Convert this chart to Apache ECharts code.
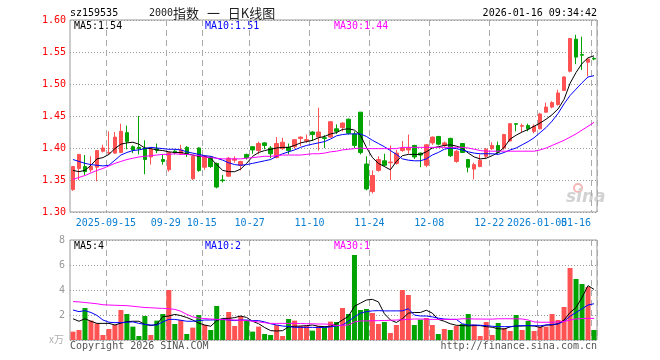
<!DOCTYPE html>
<html>
<head>
<meta charset="utf-8">
<script src="https://cdn.jsdelivr.net/npm/echarts@6/dist/echarts.min.js"></script>
<style>
html,body{margin:0;padding:0;background:#fff;}
#chart{width:660px;height:360px;}
</style>
</head>
<body>
<div id="chart"></div>
<script>
// ---------- data ----------
const dates = ['2025-09-05','2025-09-08','2025-09-09','2025-09-10','2025-09-11','2025-09-12',
'2025-09-15','2025-09-16','2025-09-17','2025-09-18','2025-09-19','2025-09-22','2025-09-23','2025-09-24','2025-09-25','2025-09-26',
'2025-09-29','2025-09-30','2025-10-09','2025-10-10','2025-10-13','2025-10-14','2025-10-15','2025-10-16','2025-10-17',
'2025-10-20','2025-10-21','2025-10-22','2025-10-23','2025-10-24','2025-10-27','2025-10-28','2025-10-29','2025-10-30','2025-10-31',
'2025-11-03','2025-11-04','2025-11-05','2025-11-06','2025-11-07','2025-11-10','2025-11-11','2025-11-12','2025-11-13','2025-11-14',
'2025-11-17','2025-11-18','2025-11-19','2025-11-20','2025-11-21','2025-11-24','2025-11-25','2025-11-26','2025-11-27','2025-11-28',
'2025-12-01','2025-12-02','2025-12-03','2025-12-04','2025-12-05','2025-12-08','2025-12-09','2025-12-10','2025-12-11','2025-12-12',
'2025-12-15','2025-12-16','2025-12-17','2025-12-18','2025-12-19','2025-12-22','2025-12-23','2025-12-24','2025-12-25','2025-12-26',
'2025-12-29','2025-12-30','2025-12-31','2026-01-05','2026-01-06','2026-01-07','2026-01-08','2026-01-09',
'2026-01-12','2026-01-13','2026-01-14','2026-01-15','2026-01-16'];

const tickDates  = ['2025-09-15','2025-09-29','2025-10-15','2025-10-27','2025-11-10','2025-11-24','2025-12-08','2025-12-22','2026-01-05','2026-01-16'];
const tickLabels = ['2025-09-15','09-29','10-15','10-27','11-10','11-24','12-08','12-22','2026-01-05','01-16'];

const openP = [1.335,1.368,1.371,1.366,1.370,1.395,1.392,1.392,1.393,1.424,
1.402,1.401,1.400,1.386,1.399,1.382,1.366,1.395,1.391,1.401,
1.352,1.400,1.370,1.386,1.376,1.350,1.356,1.381,1.373,1.390,
1.402,1.396,1.408,1.400,1.385,1.399,1.401,1.402,1.415,1.411,
1.425,1.417,1.416,1.417,1.430,1.432,1.445,1.422,1.456,1.375,
1.332,1.365,1.380,1.377,1.376,1.396,1.397,1.404,1.392,1.373,
1.408,1.418,1.404,1.415,1.379,1.407,1.382,1.367,1.371,1.387,
1.399,1.404,1.400,1.411,1.438,1.434,1.435,1.426,1.430,1.456,
1.464,1.468,1.490,1.520,1.570,1.546,1.534,1.540];
const closeP = [1.371,1.390,1.363,1.371,1.396,1.400,1.393,1.417,1.426,1.410,
1.397,1.399,1.382,1.398,1.396,1.379,1.393,1.393,1.397,1.391,
1.387,1.365,1.387,1.371,1.339,1.349,1.384,1.383,1.379,1.385,
1.397,1.407,1.404,1.391,1.407,1.409,1.396,1.413,1.417,1.413,
1.421,1.425,1.415,1.441,1.426,1.439,1.423,1.404,1.393,1.336,
1.357,1.382,1.373,1.378,1.392,1.400,1.400,1.386,1.389,1.405,
1.417,1.406,1.408,1.388,1.395,1.393,1.370,1.374,1.381,1.398,
1.404,1.393,1.421,1.438,1.437,1.435,1.430,1.434,1.453,1.464,
1.471,1.486,1.511,1.571,1.542,1.545,1.539,1.539];
const lowP = [1.333,1.350,1.358,1.362,1.348,1.393,1.390,1.391,1.392,1.398,
1.392,1.390,1.359,1.374,1.392,1.374,1.363,1.390,1.389,1.386,
1.350,1.363,1.366,1.369,1.337,1.346,1.355,1.377,1.365,1.382,
1.391,1.390,1.398,1.384,1.384,1.397,1.390,1.399,1.403,1.408,
1.411,1.396,1.400,1.416,1.422,1.426,1.421,1.400,1.390,1.334,
1.329,1.363,1.371,1.350,1.374,1.394,1.391,1.383,1.370,1.370,
1.405,1.404,1.401,1.386,1.377,1.392,1.362,1.351,1.370,1.384,
1.397,1.391,1.397,1.410,1.426,1.425,1.426,1.423,1.429,1.455,
1.462,1.466,1.489,1.518,1.531,1.522,1.512,1.537];
const highP = [1.372,1.390,1.389,1.387,1.397,1.405,1.426,1.425,1.438,1.435,
1.404,1.450,1.412,1.401,1.407,1.390,1.394,1.398,1.405,1.403,
1.388,1.401,1.389,1.387,1.377,1.358,1.386,1.387,1.380,1.391,
1.403,1.410,1.409,1.403,1.417,1.416,1.407,1.414,1.418,1.421,
1.426,1.463,1.420,1.442,1.437,1.440,1.446,1.426,1.456,1.387,
1.365,1.387,1.391,1.404,1.397,1.411,1.421,1.405,1.393,1.406,
1.418,1.419,1.410,1.416,1.397,1.408,1.383,1.377,1.390,1.400,
1.409,1.410,1.422,1.439,1.439,1.438,1.438,1.437,1.455,1.471,
1.473,1.491,1.512,1.572,1.577,1.574,1.540,1.542];

const ma5 = [1.365,1.363,1.365,1.373,1.383,1.385,1.390,1.399,1.406,1.408,
1.409,1.406,1.400,1.399,1.397,1.396,1.394,1.393,1.393,1.391,
1.389,1.387,1.387,1.384,1.374,1.365,1.363,1.363,1.367,1.376,
1.387,1.393,1.396,1.398,1.400,1.401,1.401,1.404,1.408,1.410,
1.412,1.416,1.418,1.422,1.424,1.429,1.430,1.428,1.420,1.401,
1.385,1.376,1.371,1.366,1.379,1.388,1.390,1.390,1.390,1.394,
1.400,1.402,1.404,1.405,1.403,1.400,1.392,1.386,1.383,1.384,
1.388,1.393,1.401,1.414,1.420,1.425,1.429,1.434,1.439,1.445,
1.452,1.461,1.476,1.501,1.518,1.532,1.541,1.544];
const ma10 = [1.382,1.379,1.376,1.374,1.373,1.372,1.373,1.381,1.389,1.393,
1.396,1.397,1.399,1.401,1.400,1.399,1.398,1.398,1.397,1.394,
1.392,1.390,1.388,1.387,1.384,1.381,1.377,1.374,1.373,1.374,
1.376,1.378,1.380,1.382,1.387,1.391,1.394,1.397,1.401,1.404,
1.406,1.408,1.410,1.414,1.419,1.421,1.422,1.422,1.422,1.418,
1.412,1.407,1.402,1.396,1.390,1.383,1.381,1.380,1.380,1.383,
1.389,1.393,1.398,1.400,1.399,1.397,1.394,1.392,1.391,1.391,
1.391,1.390,1.393,1.397,1.400,1.405,1.410,1.416,1.424,1.432,
1.442,1.454,1.469,1.482,1.492,1.502,1.511,1.513];
const ma30 = [1.351,1.354,1.357,1.361,1.365,1.368,1.372,1.376,1.379,1.382,
1.384,1.386,1.387,1.388,1.389,1.390,1.390,1.391,1.390,1.390,
1.389,1.388,1.386,1.385,1.384,1.383,1.383,1.383,1.383,1.384,
1.385,1.386,1.387,1.387,1.388,1.389,1.389,1.389,1.389,1.390,
1.391,1.391,1.392,1.394,1.395,1.397,1.398,1.399,1.400,1.399,
1.399,1.399,1.399,1.399,1.399,1.401,1.401,1.401,1.401,1.401,
1.401,1.401,1.401,1.401,1.401,1.401,1.400,1.398,1.396,1.395,
1.395,1.395,1.395,1.395,1.395,1.395,1.395,1.395,1.397,1.400,
1.404,1.408,1.412,1.417,1.422,1.428,1.434,1.440];

const volume = [0.67,0.80,2.56,1.55,1.33,0.40,0.88,1.20,2.40,2.08,
1.07,0.32,1.92,0.40,1.55,2.08,4.00,1.28,1.60,0.48,
0.99,2.00,1.20,0.80,2.72,1.65,2.24,1.12,1.92,1.60,
0.67,1.07,0.48,0.40,1.20,0.32,1.68,1.55,1.12,1.12,
0.75,1.12,1.07,1.47,1.44,2.56,2.08,6.80,2.40,2.48,
2.16,1.28,1.44,0.56,1.20,4.00,3.60,1.20,1.63,1.76,
1.20,0.48,0.88,0.80,1.12,1.28,2.08,1.23,0.32,1.44,
0.40,1.36,0.96,0.72,2.00,0.80,1.52,0.72,1.07,1.07,
2.08,1.60,2.64,5.76,4.88,4.48,4.24,0.80];
const volMa5 = [1.70,1.50,1.70,1.50,1.33,1.33,1.33,1.20,1.35,1.47,
1.50,1.50,1.25,1.15,1.25,1.87,1.92,2.05,1.95,1.80,
1.60,1.35,1.20,1.10,1.55,1.73,1.73,1.79,1.92,1.80,
1.50,1.30,1.00,0.75,0.72,0.75,1.05,1.10,1.12,1.15,
1.20,1.10,1.07,1.10,1.30,1.60,1.90,2.70,2.95,3.20,
3.25,3.05,2.10,1.60,1.40,1.70,2.15,2.20,2.20,2.38,
2.15,1.65,1.50,1.30,1.18,1.15,1.13,1.16,1.15,1.07,
1.02,0.90,0.88,1.05,1.12,1.12,1.15,1.12,1.01,1.20,
1.20,1.30,1.60,2.20,2.60,3.40,4.35,4.05];
const volMa10 = [2.40,2.27,2.35,2.20,1.97,1.60,1.42,1.39,1.39,1.42,
1.45,1.33,1.25,1.20,1.20,1.45,1.65,1.65,1.58,1.50,
1.50,1.55,1.60,1.60,1.62,1.65,1.60,1.55,1.60,1.60,
1.55,1.55,1.45,1.30,1.20,1.12,1.08,1.01,1.01,1.01,
1.01,1.00,1.00,1.05,1.12,1.20,1.50,1.85,2.15,2.27,
2.33,2.35,2.33,2.33,2.33,2.33,2.50,2.00,1.92,1.92,
1.85,1.75,1.68,1.65,1.65,1.30,1.20,1.20,1.18,1.15,
1.10,1.07,1.07,1.07,1.12,1.15,1.15,1.15,1.14,1.20,
1.25,1.28,1.50,1.90,2.20,2.50,2.80,2.90];
const volMa30 = [3.07,3.05,3.00,2.95,2.90,2.82,2.80,2.78,2.76,2.75,
2.70,2.65,2.60,2.58,2.55,2.53,2.50,2.45,2.30,2.05,
1.85,1.75,1.72,1.68,1.65,1.63,1.62,1.60,1.58,1.55,
1.50,1.45,1.38,1.33,1.33,1.33,1.33,1.33,1.32,1.30,
1.30,1.28,1.28,1.25,1.15,1.18,1.20,1.45,1.52,1.53,
1.54,1.55,1.56,1.58,1.60,1.62,1.65,1.68,1.68,1.66,
1.65,1.65,1.65,1.65,1.65,1.70,1.70,1.68,1.68,1.67,
1.67,1.70,1.70,1.70,1.70,1.68,1.60,1.45,1.42,1.42,
1.42,1.45,1.48,1.60,1.68,1.72,1.73,1.73];

const priceTicks = {min: 1.30, max: 1.60, step: 0.05};
const volTicks = {min: 0, max: 8, step: 2};

// ---------- chart ----------
const UP = '#ff5252', DOWN = '#00a300';
const MONO = '"DejaVu Sans Mono", monospace';
const LBLBLUE = '#0a7fd2';

const candleData = dates.map((d, i) => [openP[i], closeP[i], lowP[i], highP[i]]);
const volData = dates.map((d, i) => ({
  value: volume[i],
  itemStyle: {color: closeP[i] >= openP[i] ? UP : DOWN}
}));

const tickIndexSet = new Set(tickDates.map(d => dates.indexOf(d)));
const lastTick = dates.indexOf(tickDates[tickDates.length - 1]);

function catLabelFormatter(value) {
  const k = tickDates.indexOf(value);
  return k < 0 ? '' : tickLabels[k];
}

const splitX = {
  show: true,
  interval: (i) => tickIndexSet.has(i),
  lineStyle: {color: '#aaaaaa', type: [6, 4], width: 1}
};

const chart = echarts.init(document.getElementById('chart'), null, {renderer: 'canvas'});

function txt(x, y, text, color, align, font) {
  return {
    type: 'text', x: x, y: y, silent: true,
    style: {
      text: text, fill: color, font: font || ('10px ' + MONO),
      textAlign: align || 'left', align: align || 'left',
      textVerticalAlign: 'middle', verticalAlign: 'middle'
    }
  };
}

const baseLabel = {
  formatter: catLabelFormatter,
  hideOverlap: false,
  color: LBLBLUE, fontFamily: MONO, fontSize: 10, margin: 6
};

chart.setOption({
  animation: false,
  backgroundColor: '#ffffff',
  grid: [
    {left: 70, right: 63, top: 20, height: 192, show: true, borderColor: '#999999', borderWidth: 1},
    {left: 70, right: 63, top: 240, height: 100, show: true, borderColor: '#999999', borderWidth: 1}
  ],
  xAxis: [
    {
      type: 'category', gridIndex: 0, data: dates, boundaryGap: true, position: 'bottom',
      axisLine: {show: false}, axisTick: {show: false},
      axisLabel: Object.assign({}, baseLabel, {
        interval: (i) => tickIndexSet.has(i) && i !== lastTick,
        showMinLabel: true, showMaxLabel: true,
        padding: [0, 6, 0, 0]
      }),
      splitLine: splitX
    },
    {
      type: 'category', gridIndex: 1, data: dates, boundaryGap: true,
      axisLine: {show: false}, axisTick: {show: false}, axisLabel: {show: false},
      splitLine: splitX
    },
    {
      // carries only the right-most date label, shifted left like the original
      type: 'category', gridIndex: 0, data: dates, boundaryGap: true, position: 'bottom',
      axisLine: {show: false}, axisTick: {show: false}, splitLine: {show: false},
      axisLabel: Object.assign({}, baseLabel, {
        interval: (i) => i === lastTick,
        showMinLabel: true, showMaxLabel: true,
        padding: [0, 36, 0, 0]
      })
    }
  ],
  yAxis: [
    {
      type: 'value', gridIndex: 0, min: priceTicks.min, max: priceTicks.max, interval: priceTicks.step,
      axisLine: {show: false}, axisTick: {show: false},
      axisLabel: {formatter: v => v.toFixed(2), color: '#ff0000', fontFamily: MONO, fontSize: 10, margin: 4},
      splitLine: {show: true, lineStyle: {color: '#999999', type: [1, 2], width: 1}}
    },
    {
      type: 'value', gridIndex: 1, min: volTicks.min, max: volTicks.max, interval: volTicks.step,
      axisLine: {show: false}, axisTick: {show: false},
      axisLabel: {formatter: v => (v === 0 ? '' : String(v)), color: '#999999', fontFamily: MONO, fontSize: 10, margin: 5},
      splitLine: {show: true, lineStyle: {color: '#999999', type: [1, 2], width: 1}}
    }
  ],
  series: [
    {
      type: 'candlestick', xAxisIndex: 0, yAxisIndex: 0, data: candleData,
      barWidth: 4,
      itemStyle: {color: UP, color0: DOWN, borderColor: UP, borderColor0: DOWN, borderWidth: 1}
    },
    {type: 'line', xAxisIndex: 0, yAxisIndex: 0, data: ma5, showSymbol: false, lineStyle: {color: '#000000', width: 1}, z: 5},
    {type: 'line', xAxisIndex: 0, yAxisIndex: 0, data: ma10, showSymbol: false, lineStyle: {color: '#0000ff', width: 1}, z: 5},
    {type: 'line', xAxisIndex: 0, yAxisIndex: 0, data: ma30, showSymbol: false, lineStyle: {color: '#ff00ff', width: 1}, z: 5},
    {type: 'bar', xAxisIndex: 1, yAxisIndex: 1, data: volData, barWidth: 5},
    {type: 'line', xAxisIndex: 1, yAxisIndex: 1, data: volMa5, showSymbol: false, lineStyle: {color: '#000000', width: 1}, z: 5},
    {type: 'line', xAxisIndex: 1, yAxisIndex: 1, data: volMa10, showSymbol: false, lineStyle: {color: '#0000ff', width: 1}, z: 5},
    {type: 'line', xAxisIndex: 1, yAxisIndex: 1, data: volMa30, showSymbol: false, lineStyle: {color: '#ff00ff', width: 1}, z: 5}
  ],
  graphic: [
    txt(70, 13, 'sz159535', '#000000'),
    {
      type: 'text', x: 149, y: 13, silent: true,
      style: {
        text: '{a|2000}{b|指数}{s| }{b|一}{s| }{b|日K线图}',
        fill: '#222222', verticalAlign: 'middle', textVerticalAlign: 'middle',
        rich: {
          a: {fontFamily: MONO, fontSize: 10, fill: '#222222'},
          b: {fontFamily: '"Noto Sans CJK SC"', fontSize: 13, fill: '#222222'},
          s: {fontFamily: MONO, fontSize: 13, fill: '#222222'}
        }
      }
    },
    txt(597, 13, '2026-01-16 09:34:42', '#000000', 'right'),
    txt(74, 26, 'MA5:1.54', '#000000'),
    txt(205, 26, 'MA10:1.51', '#0000ff'),
    txt(334, 26, 'MA30:1.44', '#ff00ff'),
    txt(74, 246, 'MA5:4', '#000000'),
    txt(205, 246, 'MA10:2', '#0000ff'),
    txt(334, 246, 'MA30:1', '#ff00ff'),
    txt(64, 339, 'x万', '#b0b0b0', 'right', '10px "Noto Sans CJK SC"'),
    txt(70, 346, 'Copyright 2026 SINA.COM', '#555555'),
    txt(597, 346, 'http://finance.sina.com.cn', '#555555', 'right'),
    {
      type: 'circle', silent: true, shape: {cx: 578, cy: 188, r: 4},
      style: {fill: 'none', stroke: '#f5b8b8', lineWidth: 2}
    },
    txt(566, 198, 'sina', '#d2d2d2', 'left', 'italic bold 17px "DejaVu Sans"')
  ]
});
</script>
</body>
</html>
